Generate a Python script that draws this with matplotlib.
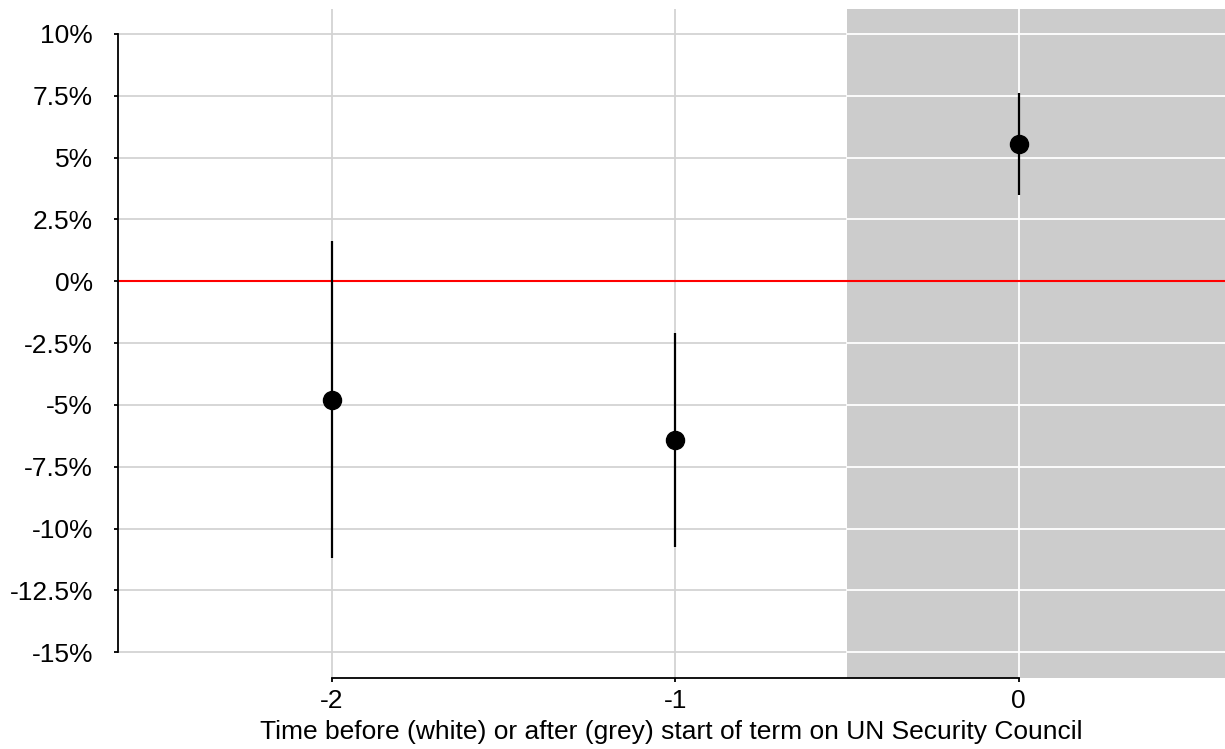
import matplotlib.pyplot as plt
from matplotlib.ticker import FuncFormatter

plt.rcParams['font.family'] = ['Liberation Sans', 'DejaVu Sans']

periods = [-2, -1, 0]
estimate = [-4.80, -6.43, 5.56]
ci_low = [-11.20, -10.73, 3.49]
ci_high = [1.63, -2.11, 7.63]
yticks = [10, 7.5, 5, 2.5, 0, -2.5, -5, -7.5, -10, -12.5, -15]


def pct(v, pos):
    return '{:g}%'.format(v)


fig = plt.figure(figsize=(12.25, 7.49), dpi=100)
ax = fig.add_axes([0.0963, 0.0948, 0.9037, 0.8936])

ax.axvspan(-0.5, 0.62, color='#cccccc', lw=0, zorder=0)

# grid: grey on white, white on the shaded part
for y in yticks:
    ax.plot([-2.622, -0.5], [y, y], color='#d3d3d3', lw=1.3, zorder=1)
    ax.plot([-0.5, 0.62], [y, y], color='white', lw=1.3, zorder=1)
for x in periods:
    c = 'white' if x > -0.5 else '#d3d3d3'
    ax.axvline(x, color=c, lw=1.3, zorder=1)

ax.axhline(0, color='red', lw=1.5, zorder=2)

ax.vlines(periods, ci_low, ci_high, color='black', lw=1.6, zorder=3)
ax.plot(periods, estimate, 'o', color='black', ms=13, zorder=4)

ax.set_xlim(-2.622, 0.601)
ax.set_ylim(-16.04, 11.02)
ax.set_xticks(periods)
ax.set_xticklabels([str(p) for p in periods])
ax.set_yticks(yticks)
ax.yaxis.set_major_formatter(FuncFormatter(pct))

for s in ['top', 'right']:
    ax.spines[s].set_visible(False)
ax.spines['left'].set_bounds(-15, 10)
ax.spines['bottom'].set_bounds(-2, 0)
ax.spines['left'].set_linewidth(1.3)
ax.spines['bottom'].set_linewidth(1.3)

ax.tick_params(axis='y', length=3, width=1.3, pad=15, labelsize=19)
ax.tick_params(axis='x', length=3, width=1.3, pad=5, labelsize=19)
ax.set_xlabel('Time before (white) or after (grey) start of term on UN Security Council',
              fontsize=19, labelpad=5)

fig.savefig('out.png', dpi=100)
